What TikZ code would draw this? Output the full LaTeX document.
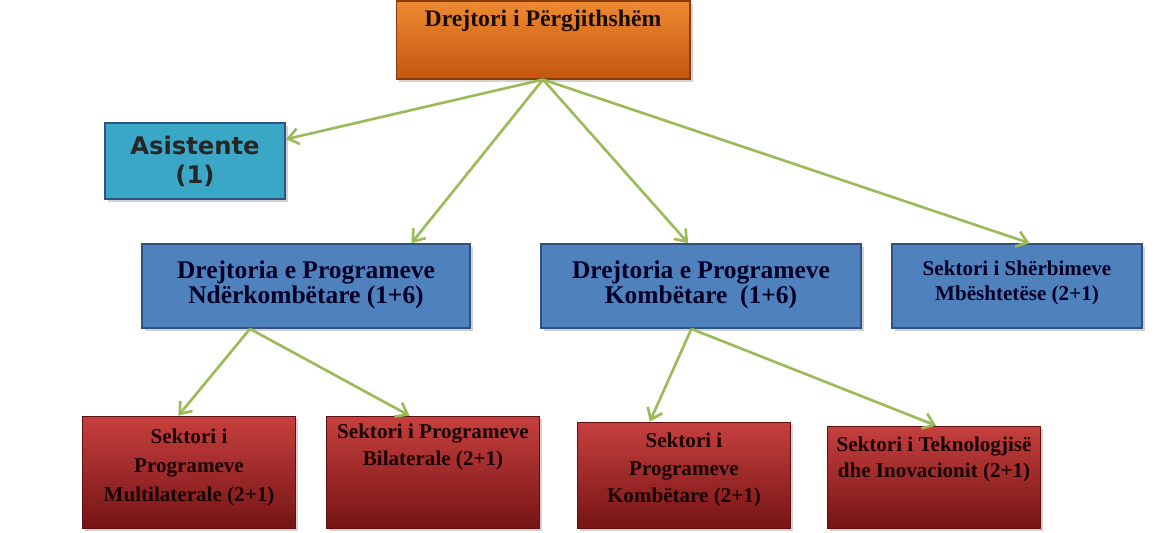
\documentclass[tikz,border=0pt]{standalone}
\usepackage{fontspec}
\setmainfont{Liberation Serif}
\newfontfamily\asfont{DejaVu Sans}
\usepackage{xcolor}
\usepackage{tikz}
\usetikzlibrary{calc,arrows.meta,shadows,positioning}

\definecolor{linegreen}{HTML}{9BBB59}
\definecolor{boxblue}{HTML}{4F81BD}
\definecolor{edgeblue}{HTML}{2F5281}
\definecolor{boxteal}{HTML}{3BA7C6}
\definecolor{orangetop}{HTML}{EE8A32}
\definecolor{orangebot}{HTML}{C2560E}
\definecolor{redtop}{HTML}{C6403F}
\definecolor{redbot}{HTML}{761414}

\begin{document}
\begin{tikzpicture}[x=0.02cm,y=-0.02cm,>={Straight Barb[length=6pt,width=9pt]},
    conn/.style={->,draw=linegreen,line width=1.5pt},
    shade/.style={drop shadow={shadow xshift=1.5pt,shadow yshift=-1.5pt,opacity=0.35}},
    headbox/.style={shade,draw=orangebot!70!black,line width=0.6pt,top color=orangetop,bottom color=orangebot,
                    minimum width=5.88cm,minimum height=1.56cm},
    asbox/.style={shade,draw=edgeblue,line width=1pt,fill=boxteal,minimum width=3.6cm,minimum height=1.52cm,
                  align=center,font=\asfont\bfseries\fontsize{13.8}{16.5}\selectfont,text=black!85},
    dirbox/.style={shade,draw=edgeblue,line width=1pt,fill=boxblue,minimum height=1.68cm},
    secbox/.style={shade,draw=redbot!80!black,line width=0.4pt,top color=redtop,bottom color=redbot,
                   minimum width=4.26cm},
    boxtext/.style={align=center,font=\bfseries\fontsize{14.5}{14.5}\selectfont,text=black!85!blue},
    sectext/.style={align=center,font=\bfseries\fontsize{12}{15.5}\selectfont,text=black!90!red}]

    \useasboundingbox (0,0) rectangle (1165,532);
    \fill[white] (0,0) rectangle (1165,532);

    % top
    \node[headbox] (dg) at (543,40) {};
    \node[boxtext,below=2pt of dg.north,font=\bfseries\fontsize{13.5}{15}\selectfont,text=black!90!orange] (dgt) {Drejtori i Përgjithshëm};

    \node[asbox] (asist) at (195,161) {Asistente\\(1)};

    % directorates
    \node[dirbox,minimum width=6.56cm] (ndk) at (306,286) {};
    \node[boxtext] (ndkt) at (306,285) {Drejtoria e Programeve\\Ndërkombëtare (1+6)};
    \node[dirbox,minimum width=6.4cm] (komb) at (701,286) {};
    \node[boxtext] (kombt) at (701,285) {Drejtoria e Programeve\\Kombëtare\ \ (1+6)};
    \node[dirbox,minimum width=5cm] (sherb) at (1017,286) {};
    \node[sectext,font=\bfseries\fontsize{12}{13.8}\selectfont,text=black!85!blue] (sherbt) at (1017,283) {Sektori i Shërbimeve\\Mbështetëse (2+1)};

    % sectors
    \node[secbox,minimum height=2.24cm] (mult) at (189,472) {};
    \node[sectext,below=4pt of mult.north,font=\bfseries\fontsize{12}{16.5}\selectfont] (multt) {Sektori i\\Programeve\\Multilaterale (2+1)};
    \node[secbox,minimum height=2.24cm] (bilat) at (433,472) {};
    \node[sectext,below=1pt of bilat.north] (bilatt) {Sektori i Programeve\\Bilaterale (2+1)};
    \node[secbox,minimum height=2.12cm] (ksek) at (684,475) {};
    \node[sectext,below=3pt of ksek.north] (ksekt) {Sektori i\\Programeve\\Kombëtare (2+1)};
    \node[secbox,minimum height=2.04cm] (tekn) at (934,477) {};
    \node[sectext,below=3pt of tekn.north,font=\bfseries\fontsize{12}{14.7}\selectfont] (teknt) {Sektori i Teknologjisë\\dhe Inovacionit (2+1)};

    % connectors
    \draw[conn] (dg.south) -- ($(asist.north east)!0.22!(asist.south east)$);
    \draw[conn] (dg.south) -- ($(ndk.north west)!0.82!(ndk.north east)$);
    \draw[conn] (dg.south) -- ($(komb.north west)!0.46!(komb.north east)$);
    \draw[conn] (dg.south) -- ($(sherb.north west)!0.55!(sherb.north east)$);

    \draw[conn] ($(ndk.south west)!0.33!(ndk.south east)$) -- ($(mult.north west)!0.45!(mult.north east)$);
    \draw[conn] ($(ndk.south west)!0.33!(ndk.south east)$) -- ($(bilat.north west)!0.39!(bilat.north east)$);
    \draw[conn] ($(komb.south west)!0.47!(komb.south east)$) -- ($(ksek.north west)!0.34!(ksek.north east)$);
    \draw[conn] ($(komb.south west)!0.47!(komb.south east)$) -- ($(tekn.north west)!0.51!(tekn.north east)$);

\end{tikzpicture}
\end{document}
